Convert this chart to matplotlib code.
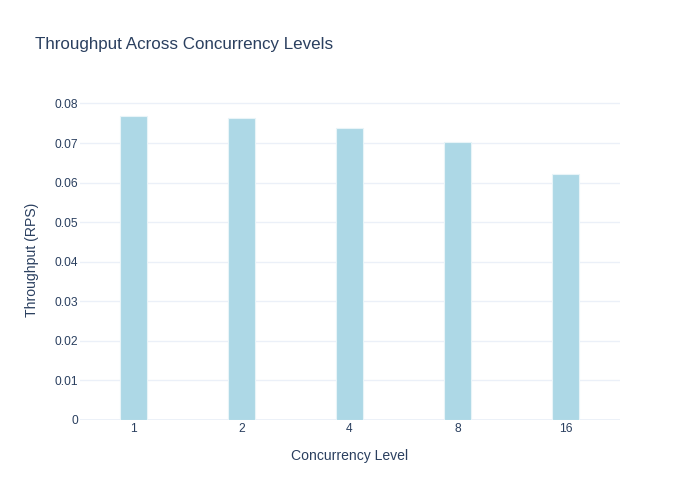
import matplotlib
matplotlib.use("Agg")
import matplotlib.pyplot as plt
from matplotlib.ticker import FixedLocator

categories = ["1", "2", "4", "8", "16"]
throughput = [0.0768, 0.0762, 0.0738, 0.0703, 0.0622]
y_ticks = [0, 0.01, 0.02, 0.03, 0.04, 0.05, 0.06, 0.07, 0.08]
y_tick_labels = ["0", "0.01", "0.02", "0.03", "0.04", "0.05", "0.06", "0.07", "0.08"]

plt.rcParams['font.family'] = ['Liberation Sans', 'DejaVu Sans']
txt = "#2a3f5f"
grid = "#ebf0f8"

fig = plt.figure(figsize=(7, 5), dpi=100)
ax = fig.add_axes([79.5/700, 80/500, 540/700, 320/500])
x = list(range(len(categories)))
ax.bar(x, throughput, width=0.25, color="#add8e6", edgecolor="#e8f4f8", linewidth=0.8, zorder=3)
ax.set_xlim(-0.5, len(categories) - 0.5)
ax.set_ylim(0, max(throughput) * 1.053)
ax.yaxis.set_major_locator(FixedLocator(y_ticks))
ax.set_yticklabels(y_tick_labels)
ax.set_xticks(x)
ax.set_xticklabels(categories)
ax.grid(axis='y', color=grid, linewidth=1, zorder=0)
ax.axhline(0, color=grid, linewidth=2, zorder=2)
for s in ax.spines.values():
    s.set_visible(False)
ax.tick_params(axis='both', length=0, labelsize=8.64, labelcolor=txt)
ax.tick_params(axis='y', pad=1)
ax.tick_params(axis='x', pad=2)
ax.set_xlabel("Concurrency Level", fontsize=10.08, color=txt, labelpad=10)
ax.set_ylabel("Throughput (RPS)", fontsize=10.08, color=txt, labelpad=11)
fig.text(35/700, 1 - 45/500, "Throughput Across Concurrency Levels", fontsize=12.24, color=txt, va='center', ha='left')
fig.savefig("out.png", dpi=100)
